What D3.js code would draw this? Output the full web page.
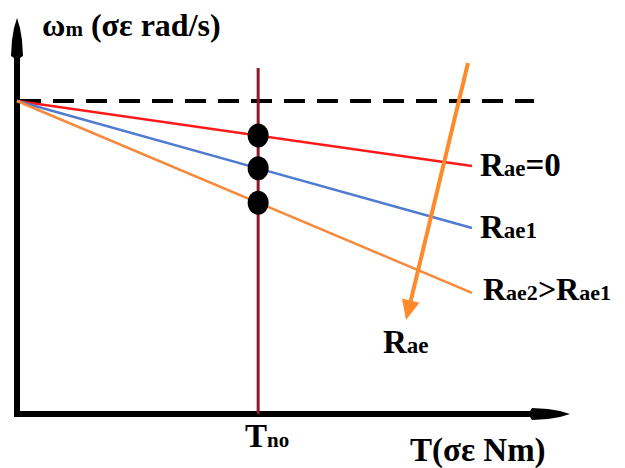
<!DOCTYPE html>
<html>
<head>
<meta charset="utf-8">
<script src="https://cdn.jsdelivr.net/npm/d3@7"></script>
<style>
  html, body { margin: 0; padding: 0; background: #fff; }
  svg { display: block; }
</style>
</head>
<body>
<svg id="chart" width="625" height="468"></svg>
<script>
// Speed–torque characteristics of a DC motor for increasing armature resistance
const seriesNames = ["Rae=0", "Rae1", "Rae2>Rae1"];
const seriesColors = ["#ff1a1a", "#4f7bd0", "#f58a3c"];
const torquePoints = [0, 1];                 // normalised load torque
const speedAtZero = [1, 1, 1];               // no-load speed ω0 (normalised)
const speedAtMax = [0.792, 0.594, 0.387];    // speed at full torque
const loadTorque = 0.53;                     // operating load torque T_no
const noLoadSpeed = 1;

const svg = d3.select("#chart");
const serif = '"Liberation Serif"';

const x = d3.scaleLinear().domain([0, 1]).range([17, 472]);
const y = d3.scaleLinear().domain([0, 1]).range([414, 101]);

// Axes (drawn as heavy arrows)
const axisG = svg.append("g");
axisG.append("line")
  .attr("x1", x(0)).attr("x2", 545).attr("y1", y(0)).attr("y2", y(0))
  .attr("stroke", "#000").attr("stroke-width", 6);
axisG.append("line")
  .attr("x1", x(0)).attr("x2", x(0)).attr("y1", y(0) + 3).attr("y2", 40)
  .attr("stroke", "#000").attr("stroke-width", 6);

// Elongated arrow head, pointing along +u in local coordinates
const headPath = "M0,0 L-10,-3 L-22,-5 L-38,-6 L-40,-3 L-42,0 L-40,3 L-38,6 L-22,5 L-10,3 Z";
axisG.append("path").attr("d", headPath)
  .attr("transform", `translate(570,${y(0)})`).attr("fill", "#000");
axisG.append("path").attr("d", headPath)
  .attr("transform", `translate(${x(0)},18) rotate(-90)`).attr("fill", "#000");

// No-load speed reference (dashed)
svg.append("line")
  .attr("x1", x(0) + 3).attr("x2", 534)
  .attr("y1", y(noLoadSpeed)).attr("y2", y(noLoadSpeed))
  .attr("stroke", "#000").attr("stroke-width", 4)
  .attr("stroke-dasharray", "21,12");

// Load torque line
svg.append("line")
  .attr("x1", x(loadTorque)).attr("x2", x(loadTorque))
  .attr("y1", 68).attr("y2", y(0))
  .attr("stroke", "#8b1a2b").attr("stroke-width", 3);

// Characteristic lines
const line = d3.line().x(d => x(d[0])).y(d => y(d[1]));
seriesNames.forEach((name, i) => {
  const pts = torquePoints.map((t, k) => [t, k === 0 ? speedAtZero[i] : speedAtMax[i]]);
  svg.append("path")
    .attr("d", line(pts))
    .attr("fill", "none")
    .attr("stroke", seriesColors[i])
    .attr("stroke-width", 2.5);
});

// Operating points at the load torque
seriesNames.forEach((name, i) => {
  const s = speedAtZero[i] + (speedAtMax[i] - speedAtZero[i]) * loadTorque;
  svg.append("ellipse")
    .attr("cx", x(loadTorque)).attr("cy", y(s))
    .attr("rx", 10.5).attr("ry", 12)
    .attr("fill", "#000");
});

// Direction of increasing resistance
const ax1 = 468, ay1 = 63, ax2 = 406, ay2 = 320;
const ang = Math.atan2(ay2 - ay1, ax2 - ax1) * 180 / Math.PI;
svg.append("line")
  .attr("x1", ax1).attr("y1", ay1).attr("x2", ax2 + 4).attr("y2", ay2 - 16)
  .attr("stroke", "#ff8a2a").attr("stroke-width", 4);
svg.append("path")
  .attr("d", "M0,0 L-20,-9 L-20,9 Z")
  .attr("transform", `translate(${ax2},${ay2}) rotate(${ang})`)
  .attr("fill", "#ff8a2a");

// Text helper: main text with smaller subscript parts
function label(xp, yp, parts, size, subSize) {
  const t = svg.append("text")
    .attr("x", xp).attr("y", yp)
    .style("font-family", serif)
    .style("font-weight", "bold")
    .style("fill", "#000");
  parts.forEach(p => {
    t.append("tspan")
      .style("font-size", (p.sub ? subSize : size) + "px")
      .text(p.t);
  });
  return t;
}

label(42, 36, [{t: "ω"}, {t: "m", sub: true}, {t: " (σε rad/s)"}], 32, 21);
label(480, 176, [{t: "R"}, {t: "ae", sub: true}, {t: "=0"}], 33, 23);
label(480, 238, [{t: "R"}, {t: "ae1", sub: true}], 33, 23);
label(483, 300, [{t: "R"}, {t: "ae2", sub: true}, {t: ">R"}, {t: "ae1", sub: true}], 32, 22);
label(383, 353, [{t: "R"}, {t: "ae", sub: true}], 33, 23);
label(245, 447, [{t: "T"}, {t: "no", sub: true}], 33, 21);
label(410, 461, [{t: "T(σε Nm)"}], 33, 22);
</script>
</body>
</html>
